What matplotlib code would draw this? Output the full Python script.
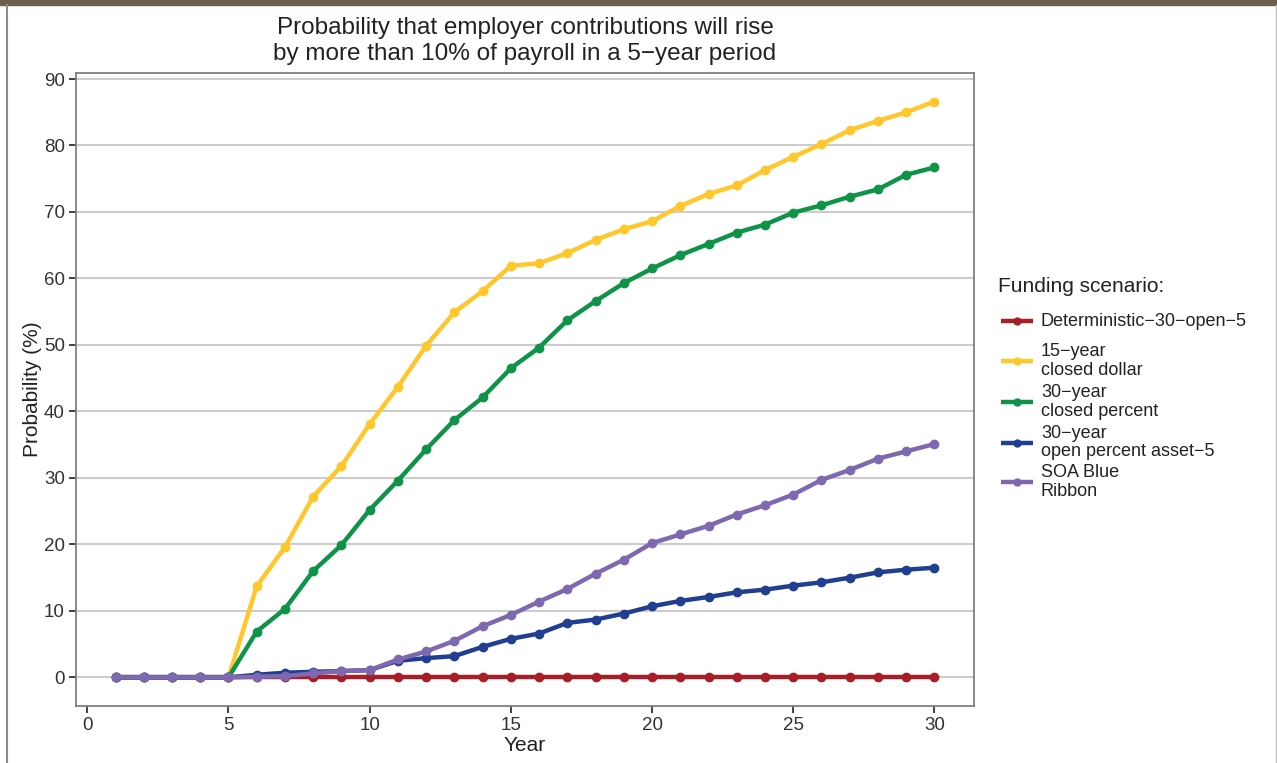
import matplotlib
matplotlib.use("Agg")
import matplotlib.pyplot as plt
from matplotlib.lines import Line2D

plt.rcParams['font.family'] = ['Liberation Sans', 'DejaVu Sans']

years = list(range(1, 31))
deterministic = [0.0] * 30
closed_dollar_15 = [0, 0, 0, 0, 0, 13.7, 19.6, 27.2, 31.8, 38.1, 43.7, 49.9, 54.9, 58.1, 61.9,
                    62.3, 63.8, 65.8, 67.4, 68.6, 70.9, 72.7, 74.0, 76.3, 78.3, 80.2, 82.3, 83.7, 85.0, 86.6]
closed_percent_30 = [0, 0, 0, 0, 0, 6.9, 10.3, 16.0, 19.9, 25.2, 29.6, 34.3, 38.7, 42.1, 46.5,
                     49.6, 53.7, 56.6, 59.3, 61.5, 63.5, 65.2, 66.9, 68.1, 69.9, 71.0, 72.3, 73.4, 75.6, 76.7]
open_percent_30 = [0, 0, 0, 0, 0, 0.4, 0.7, 0.85, 0.95, 1.1, 2.5, 2.9, 3.2, 4.6, 5.8,
                   6.6, 8.2, 8.7, 9.6, 10.7, 11.5, 12.1, 12.8, 13.2, 13.8, 14.3, 15.0, 15.8, 16.2, 16.5]
soa_blue_ribbon = [0, 0, 0, 0, 0, 0.1, 0.2, 0.6, 0.95, 1.1, 2.7, 3.9, 5.5, 7.7, 9.4,
                   11.4, 13.3, 15.6, 17.7, 20.2, 21.5, 22.8, 24.5, 25.9, 27.5, 29.7, 31.2, 32.9, 34.0, 35.1]

series = [
    ("Deterministic\u221230\u2212open\u22125", deterministic, "#A51E28"),
    ("15\u2212year\nclosed dollar", closed_dollar_15, "#FFC72C"),
    ("30\u2212year\nclosed percent", closed_percent_30, "#0E9348"),
    ("30\u2212year\nopen percent asset\u22125", open_percent_30, "#203F91"),
    ("SOA Blue\nRibbon", soa_blue_ribbon, "#7E69B1"),
]

W, H = 1277, 763
fig = plt.figure(figsize=(W / 100, H / 100), dpi=100)
ax = fig.add_axes([0.0595, 0.0747, 0.7032, 0.8296])

for label, vals, col in series:
    ax.plot(years, vals, color=col, lw=3.2, marker='o', markersize=6, label=label,
            solid_capstyle='butt', zorder=3)

ax.set_xlim(-0.4, 31.4)
ax.set_ylim(-4.3, 90.9)
ax.set_xticks([0, 5, 10, 15, 20, 25, 30])
ax.set_yticks([0, 10, 20, 30, 40, 50, 60, 70, 80, 90])
ax.grid(axis='y', color='#cccccc', lw=1.5, zorder=0)
ax.grid(axis='x', visible=False)
for sp in ax.spines.values():
    sp.set_color('#7f7f7f')
    sp.set_linewidth(1.3)
ax.tick_params(axis='both', direction='out', length=5, width=1.3, color='#333333',
               labelsize=13.5, labelcolor='#333333', pad=3)
ax.set_xlabel("Year", fontsize=15, color='#222222', labelpad=1)
ax.set_ylabel("Probability (%)", fontsize=15, color='#222222', labelpad=1)
ax.set_title("Probability that employer contributions will rise\nby more than 10% of payroll in a 5\u2212year period",
             fontsize=17.5, color='#222222', pad=9.5, linespacing=1.25)

# legend drawn by hand (pixel layout in figure coordinates)
def fx(px):
    return px / W

def fy(py):
    return 1 - py / H

fig.text(fx(998), fy(287), "Funding scenario:", fontsize=15, color='#222222',
         ha='left', va='center')
entry_y = [321, 361, 402, 442.5, 482]
for (label, _, col), yy in zip(series, entry_y):
    fig.lines.append(Line2D([fx(1001), fx(1033)], [fy(yy), fy(yy)], transform=fig.transFigure,
                            color=col, lw=3.2, solid_capstyle='butt'))
    fig.lines.append(Line2D([fx(1017)], [fy(yy)], transform=fig.transFigure,
                            color=col, marker='o', markersize=5, lw=0))
    fig.text(fx(1041), fy(yy), label, fontsize=13, color='#222222', ha='left', va='center',
             linespacing=1.08)

# decorative frame: top banner strip and side borders
fig.patches.append(plt.Rectangle((0, 1 - 5 / H), 1, 5 / H, transform=fig.transFigure,
                                 color='#6B5F4B', zorder=0))
fig.lines.append(Line2D([6.5 / W, 6.5 / W], [0, 1 - 5 / H], transform=fig.transFigure,
                        color='#8c8c8c', lw=1.5))
fig.lines.append(Line2D([1275.5 / W, 1275.5 / W], [0, 1 - 5 / H], transform=fig.transFigure,
                        color='#bdbdbd', lw=1.0))

fig.savefig("out.png", dpi=100)
